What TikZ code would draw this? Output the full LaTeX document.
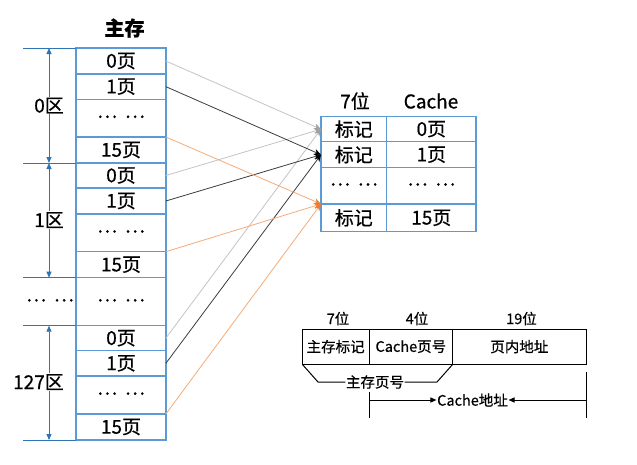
\documentclass[tikz,border=0pt]{standalone}
\usepackage{fontspec}
\setmainfont{Noto Sans CJK SC}[FakeBold=0.6]
\usetikzlibrary{arrows.meta}
\definecolor{cellblue}{RGB}{91,155,213}
\definecolor{dimblue}{RGB}{46,117,182}
\definecolor{lgray}{RGB}{195,195,195}
\definecolor{tgray}{RGB}{160,160,160}
\definecolor{dgray}{RGB}{60,60,60}
\definecolor{lorange}{RGB}{244,170,120}
\definecolor{torange}{RGB}{237,125,49}
\newcommand{\dd}{\raisebox{3pt}{…\hspace{0.4em}…}}
\begin{document}
\begin{tikzpicture}[x=1pt,y=-1pt,
  cell/.style={draw=cellblue, line width=1.5pt, inner sep=0pt, outer sep=0pt, font=\fontsize{19}{21}\selectfont},
  mcell/.style={cell, minimum width=89.7pt},
  tcell/.style={cell, minimum width=65.7pt},
  pcell/.style={cell, minimum width=89.3pt},
  fbox/.style={draw=black, line width=1pt, inner sep=0pt, outer sep=0pt, minimum height=35.3pt, font=\fontsize{14.5}{16}\selectfont},
  small/.style={font=\fontsize{14.5}{16}\selectfont, inner sep=1pt},
  big/.style={font=\fontsize{19}{21}\selectfont, inner sep=1pt},
  dimline/.style={draw=dimblue, line width=0.8pt},
  dimarrow/.style={dimline, {Triangle[length=6pt,width=5pt]}-{Triangle[length=6pt,width=5pt]}},
  grayline/.style={draw=lgray, line width=0.8pt, -{Stealth[length=7pt,width=6pt,color=tgray]}},
  blackline/.style={draw=dgray, line width=0.8pt, -{Stealth[length=7pt,width=6pt,color=black]}},
  orangeline/.style={draw=lorange, line width=0.8pt, -{Stealth[length=7pt,width=6pt,color=torange]}},
  blkarrow/.style={draw=black, line width=1pt, -{Triangle[length=6pt,width=5pt]}}
]
\useasboundingbox (0,0) rectangle (637,464);

% title
\node[font=\fontsize{20}{22}\selectfont\bfseries] (title) at (124.5,28) {主存};

% main memory column
\node[mcell, minimum height=26pt]   (m1)  at (121,61)     {0页};
\node[mcell, minimum height=25.3pt] (m2)  at (121,86.65)  {1页};
\node[mcell, minimum height=37.7pt] (m3)  at (121,118.15) {\dd};
\node[mcell, minimum height=26pt]   (m4)  at (121,150)    {15页};
\node[mcell, minimum height=25pt]   (m5)  at (121,175.5)  {0页};
\node[mcell, minimum height=26pt]   (m6)  at (121,201)    {1页};
\node[mcell, minimum height=37.7pt] (m7)  at (121,232.85) {\dd};
\node[mcell, minimum height=26pt]   (m8)  at (121,264.7)  {15页};
\node[mcell, minimum height=48pt]   (m9)  at (121,301.7)  {\dd};
\node[mcell, minimum height=25pt]   (m10) at (121,338.2)  {0页};
\node[mcell, minimum height=25.3pt] (m11) at (121,363.35) {1页};
\node[mcell, minimum height=38pt]   (m12) at (121,395)    {\dd};
\node[mcell, minimum height=26pt]   (m13) at (121,427)    {15页};

% left dimension lines
\draw[dimline] (m1.north west) -- ++(-53,0);
\draw[dimline] (m4.south west) -- ++(-53,0);
\draw[dimline] (m8.south west) -- ++(-53,0);
\draw[dimline] (m9.south west) -- ++(-53,0);
\draw[dimline] (m13.south west) -- ++(-53,0);
\coordinate (d0) at (49,48);
\coordinate (d1) at (49,163);
\coordinate (d2) at (49,277.7);
\coordinate (d3) at (49,325.7);
\coordinate (d4) at (49,440);
\draw[dimarrow] (d0) -- (d1);
\draw[dimarrow] (d1) -- (d2);
\draw[dimarrow] (d3) -- (d4);
\node[big, anchor=east, fill=white] (z0) at (65,105.5) {0区};
\node[big, anchor=east, fill=white] (z1) at (65,220) {1区};
\node[big] (zd) at (50,301.7) {\dd};
\node[big, anchor=east, fill=white] (z127) at (65,382) {127区};

% cache table
\node[big] (h1) at (355,101) {7位};
\node[big] (h2) at (431,101) {Cache};
\node[tcell, minimum height=25pt]   (t1) at (353.85,129.2)  {标记};
\node[pcell, minimum height=25pt]   (p1) at (431.35,129.2)  {0页};
\node[tcell, minimum height=26pt]   (t2) at (353.85,154.7)  {标记};
\node[pcell, minimum height=26pt]   (p2) at (431.35,154.7)  {1页};
\node[tcell, minimum height=36.3pt] (t3) at (353.85,185.85) {\dd};
\node[pcell, minimum height=36.3pt] (p3) at (431.35,185.85) {\dd};
\node[tcell, minimum height=27.7pt] (t4) at (353.85,217.85) {标记};
\node[pcell, minimum height=27.7pt] (p4) at (431.35,217.85) {15页};

% mapping connectors
\draw[grayline] (m1.east) -- (t1.west);
\draw[grayline] (m5.east) -- (t1.west);
\draw[grayline] (m10.east) -- (t1.west);
\draw[blackline] (m2.east) -- (t2.west);
\draw[blackline] (m6.east) -- (t2.west);
\draw[blackline] (m11.east) -- (t2.west);
\draw[orangeline] (m4.north east) -- (t4.north west);
\draw[orangeline] (m8.north east) -- (t4.north west);
\draw[orangeline] (m13.north east) -- (t4.north west);

% address format
\node[small] (b1) at (338,318.5) {7位};
\node[small] (b2) at (417,318.5) {4位};
\node[small] (b3) at (521.5,318.5) {19位};
\node[fbox, minimum width=66.7pt]  (f1) at (335.65,346.65) {主存标记};
\node[fbox, minimum width=83.7pt]  (f2) at (410.85,346.65) {Cache页号};
\node[fbox, minimum width=133.3pt] (f3) at (519.35,346.65) {页内地址};

\node[small, inner sep=0.5pt] (mp) at (375,382) {主存页号};
\coordinate (k1) at (318,382);
\coordinate (k2) at (437,382);
\draw[line width=1pt] (f1.south west) -- (k1) -- (mp.west);
\draw[line width=1pt] (mp.east) -- (k2) -- (f2.south east);

\node[small, inner sep=0.5pt] (ca) at (472.5,400) {Cache地址};
\coordinate (v1a) at (369,391.7);
\coordinate (v1b) at (369,418);
\coordinate (v2a) at (586,371.7);
\coordinate (v2b) at (586,418);
\coordinate (a1) at (369,400);
\coordinate (a2) at (586,400);
\draw[line width=1pt] (v1a) -- (v1b);
\draw[line width=1pt] (v2a) -- (v2b);
\draw[blkarrow] (a1) -- (ca.west);
\draw[blkarrow] (a2) -- (ca.east);
\end{tikzpicture}
\end{document}
